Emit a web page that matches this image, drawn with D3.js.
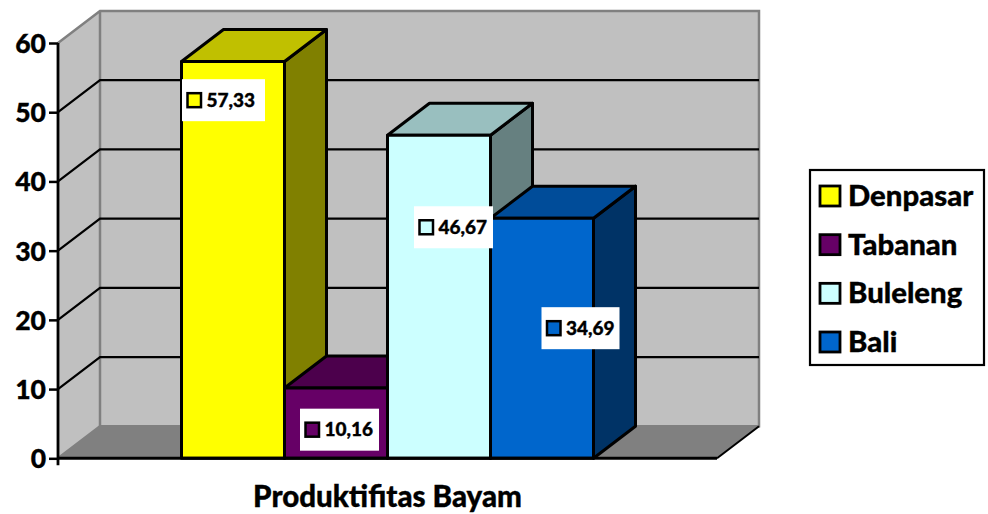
<!DOCTYPE html>
<html>
<head>
<meta charset="utf-8">
<script src="https://cdn.jsdelivr.net/npm/d3@7/dist/d3.min.js"></script>
<style>
html,body{margin:0;padding:0;background:#fff;}
svg{display:block;}
text{font-family:Lato,"Open Sans",sans-serif;font-weight:900;fill:#000;stroke:#000;stroke-width:0.35px;}
</style>
</head>
<body>
<div id="chart"></div>
<script>
const categories = ["Denpasar", "Tabanan", "Buleleng", "Bali"];
const values = [57.33, 10.16, 46.67, 34.69];
const valueLabels = ["57,33", "10,16", "46,67", "34,69"];
const faceColors = ["#ffff00", "#660066", "#ccffff", "#0066cc"];
const topColors = ["#c0c000", "#4c004c", "#99bfbf", "#004c99"];
const sideColors = ["#808000", "#330033", "#668080", "#003366"];
const yTicks = [0, 10, 20, 30, 40, 50, 60];
const axisTitle = "Produktifitas Bayam";
// label box placement relative to the bar's left edge and top edge
const labelDx = [0.5, 15.5, 26.5, 51];
const labelDy = [17.7, 20.7, 71, 89];
const labelW = [83, 79, 79, 78];

const W = 988, H = 514;
const DX = 42, DY = -32;
const x0 = 58, x1 = 717;
const y = d3.scaleLinear().domain([0, 60]).range([458.3, 43]);
const x = d3.scaleBand().domain(categories).range([181.5, 593.5]).paddingInner(0).paddingOuter(0);

const svg = d3.select("#chart").append("svg").attr("width", W).attr("height", H);
const poly = (pts) => pts.map(p => p.join(",")).join(" ");

// walls
svg.append("polygon").attr("points", poly([[x0, y(60)], [x0 + DX, y(60) + DY], [x0 + DX, y(0) + DY], [x0, y(0)]]))
  .attr("fill", "#c0c0c0");
svg.append("rect").attr("x", x0 + DX).attr("y", y(60) + DY).attr("width", x1 - x0).attr("height", y(0) - y(60))
  .attr("fill", "#c0c0c0");
svg.append("polygon").attr("points", poly([[x0, y(0)], [x0 + DX, y(0) + DY], [x1 + DX, y(0) + DY], [x1, y(0)]]))
  .attr("fill", "#808080");

// grey wall edges
svg.append("polyline")
  .attr("points", poly([[x0, y(60)], [x0 + DX, y(60) + DY], [x1 + DX, y(60) + DY], [x1 + DX, y(0) + DY], [x0 + DX, y(0) + DY], [x0, y(0)]]))
  .attr("fill", "none").attr("stroke", "#808080").attr("stroke-width", 2.5);
svg.append("line").attr("x1", x0 + DX).attr("x2", x0 + DX).attr("y1", y(60) + DY).attr("y2", y(0) + DY)
  .attr("stroke", "#808080").attr("stroke-width", 2.5);

// gridlines
const grid = yTicks.filter(t => t > 0 && t < 60);
svg.append("g").selectAll("polyline").data(grid).join("polyline")
  .attr("points", t => poly([[x0, y(t)], [x0 + DX, y(t) + DY], [x1 + DX, y(t) + DY]]))
  .attr("fill", "none").attr("stroke", "#000").attr("stroke-width", 2.2);

// floor front edge to the right
svg.append("line").attr("x1", x1).attr("y1", y(0)).attr("x2", x1 + DX).attr("y2", y(0) + DY)
  .attr("stroke", "#000").attr("stroke-width", 2);

// bars
const bars = svg.append("g").attr("stroke", "#000").attr("stroke-width", 3).attr("stroke-linejoin", "round");
const order = categories.map((c, i) => i);
order.forEach(i => {
  const l = x(categories[i]), r = l + x.bandwidth(), t = y(values[i]), b = y(0);
  bars.append("polygon").attr("points", poly([[r, t], [r + DX, t + DY], [r + DX, b + DY], [r, b]])).attr("fill", sideColors[i]);
  bars.append("polygon").attr("points", poly([[l, t], [l + DX, t + DY], [r + DX, t + DY], [r, t]])).attr("fill", topColors[i]);
});
order.forEach(i => {
  const l = x(categories[i]), t = y(values[i]);
  bars.append("rect").attr("x", l).attr("y", t).attr("width", x.bandwidth()).attr("height", y(0) - t).attr("fill", faceColors[i]);
});

// axes
const axis = svg.append("g").attr("transform", `translate(${x0},0)`)
  .call(d3.axisLeft(y).tickValues(yTicks).tickSize(9).tickPadding(3).tickFormat(d3.format("d")));
axis.selectAll("path").remove();
axis.selectAll("line").attr("stroke", "#000").attr("stroke-width", 2.5);
axis.selectAll("text").style("font-size", "26.5px").style("font-family", "Lato").style("font-weight", 900)
  .attr("fill", "#000").attr("dy", "0.36em");
svg.append("line").attr("x1", x0).attr("x2", x0).attr("y1", y(60)).attr("y2", y(0) + 7).attr("stroke", "#000").attr("stroke-width", 2.8);
svg.append("line").attr("x1", x0).attr("x2", x1).attr("y1", y(0)).attr("y2", y(0)).attr("stroke", "#000").attr("stroke-width", 3);

// data labels
categories.forEach((c, i) => {
  const bx = x(c) + labelDx[i], by = y(values[i]) + labelDy[i];
  const g = svg.append("g").attr("transform", `translate(${bx},${by})`);
  g.append("rect").attr("width", labelW[i]).attr("height", 42).attr("fill", "#fff");
  g.append("rect").attr("x", 5.5).attr("y", 14).attr("width", 13.5).attr("height", 14)
    .attr("fill", faceColors[i]).attr("stroke", "#000").attr("stroke-width", 2.5);
  g.append("text").attr("x", 24.5).attr("y", 27.5).style("font-size", "19px").text(valueLabels[i]);
});

// category title
svg.append("text").attr("x", 387.5).attr("y", 507).attr("text-anchor", "middle").style("font-size", "29.5px").text(axisTitle);

// legend
const legend = svg.append("g");
legend.append("rect").attr("x", 810).attr("y", 170).attr("width", 174).attr("height", 195)
  .attr("fill", "#fff").attr("stroke", "#000").attr("stroke-width", 2.2);
const rowY = d3.scalePoint().domain(categories).range([196, 342]);
categories.forEach((c, i) => {
  legend.append("rect").attr("x", 820).attr("y", rowY(c) - 10).attr("width", 20).attr("height", 20)
    .attr("fill", faceColors[i]).attr("stroke", "#000").attr("stroke-width", 2.8);
  legend.append("text").attr("x", 848).attr("y", rowY(c) + 10).style("font-size", "29.3px").text(c);
});
</script>
</body>
</html>
